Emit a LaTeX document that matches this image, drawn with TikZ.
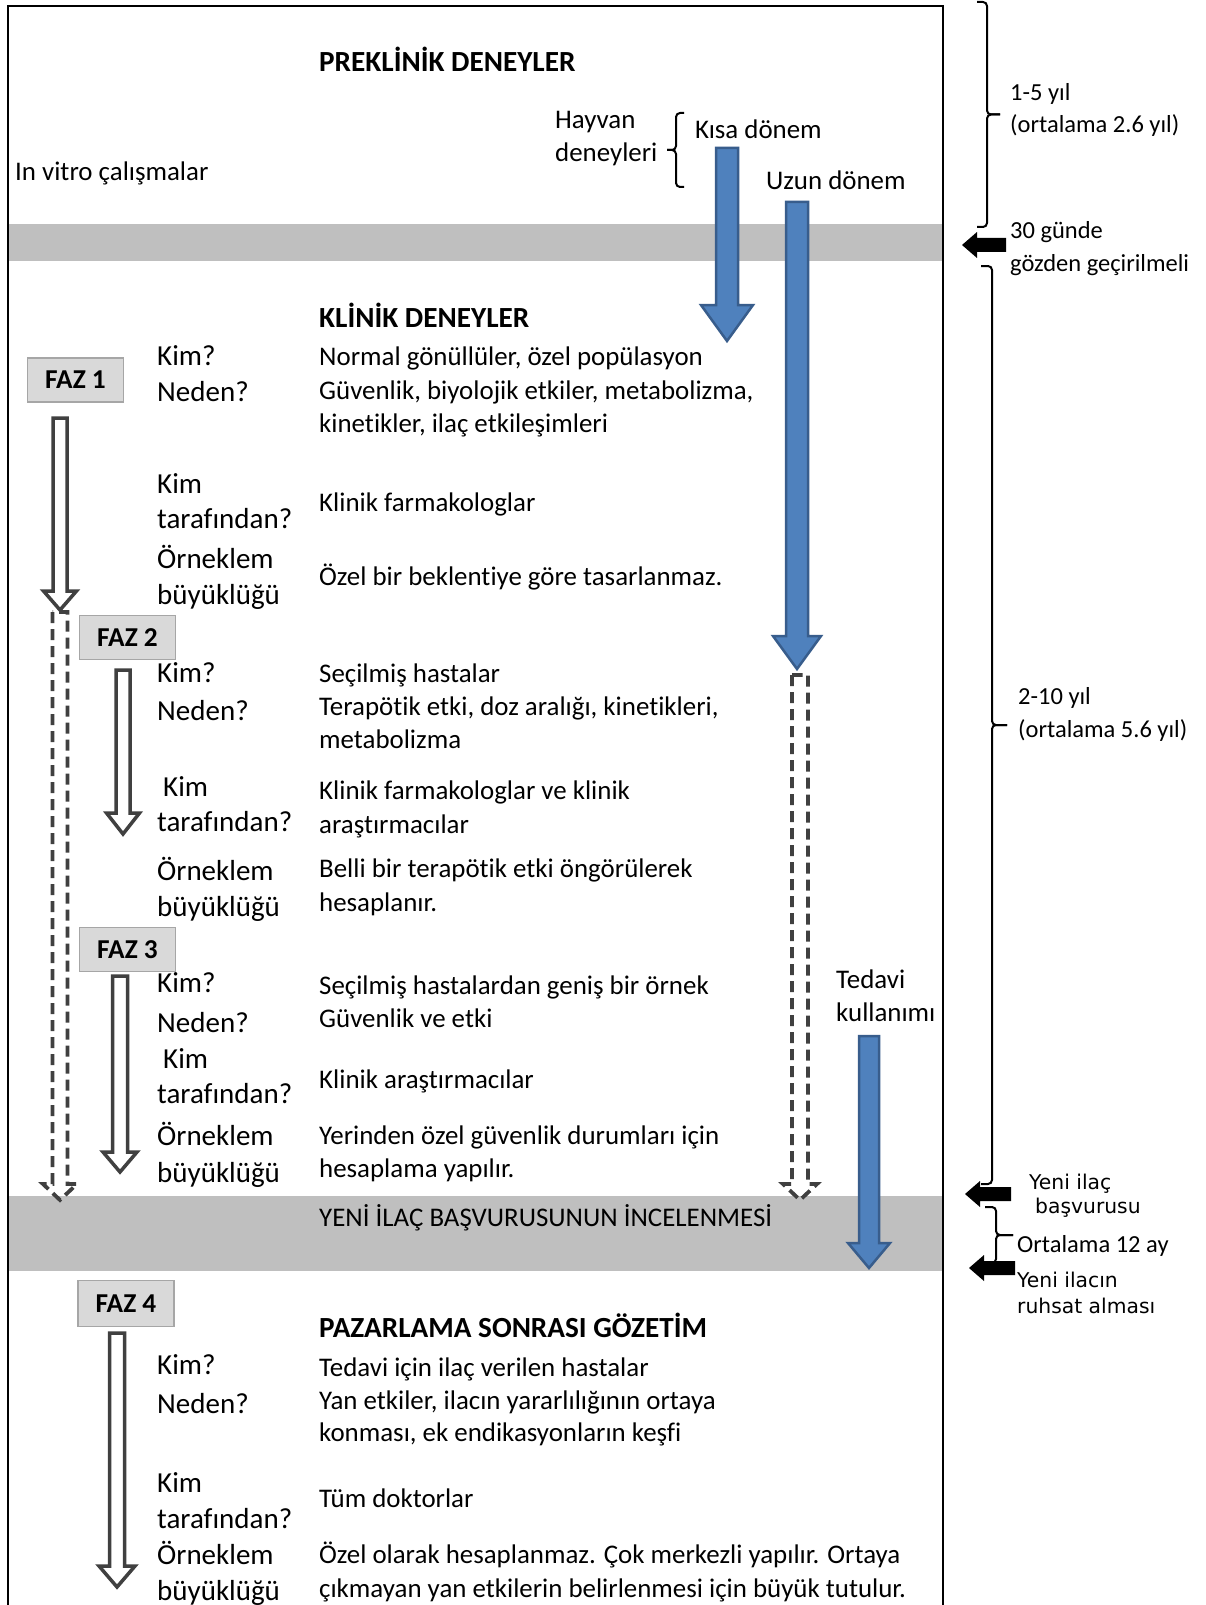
\documentclass[tikz,border=0pt]{standalone}
\usepackage{fontspec}
\setmainfont{Carlito}[RawFeature=-liga]
\newfontfamily\dejavu{DejaVu Sans}
\definecolor{bandgray}{RGB}{191,191,191}
\definecolor{fazfill}{RGB}{217,217,217}
\definecolor{fazline}{RGB}{166,166,166}
\definecolor{arrowgray}{RGB}{64,64,64}
\definecolor{bluefill}{RGB}{79,129,189}
\definecolor{blueline}{RGB}{56,93,140}
\newcommand{\barrow}[7][]{\draw[#1] ({#2-#4},#3) -- ({#2-#4},#5) -- ({#2-#6},#5) -- (#2,#7) -- ({#2+#6},#5) -- ({#2+#4},#5) -- ({#2+#4},#3) -- cycle;}
\newcommand{\harrow}[3]{\fill[black] (#1,#2) -- ({#1+15},{#2-13}) -- ({#1+15},{#2-7}) -- (#3,{#2-7}) -- (#3,{#2+7}) -- ({#1+15},{#2+7}) -- ({#1+15},{#2+13}) -- cycle;}
\newcommand{\mybrace}[5]{%
  \draw[bracestyle] (#1,#3) -- (#2,#3) -- (#2,{(#3+#4)/2}) -- (#5,{(#3+#4)/2});
  \draw[bracestyle] (#5,{(#3+#4)/2}) -- (#2,{(#3+#4)/2}) -- (#2,#4) -- (#1,#4);}
\begin{document}
\begin{tikzpicture}[x=1pt,y=-1pt,
  txt/.style={anchor=base west, inner sep=0pt, yshift=-1.5pt, font=\fontsize{26.9}{32}\selectfont},
  lbl/.style={anchor=base west, inner sep=0pt, yshift=-1.5pt, font=\fontsize{29}{34}\selectfont},
  hd/.style={anchor=base west, inner sep=0pt, yshift=-2pt, font=\fontsize{29.2}{34}\selectfont\bfseries},
  side/.style={anchor=base west, inner sep=0pt, yshift=-1pt, font=\fontsize{24.5}{30}\selectfont},
  sml/.style={anchor=base west, inner sep=0pt, font=\dejavu\fontsize{20.3}{24}\selectfont},
  faz/.style={draw=fazline, fill=fazfill, line width=1.5pt, minimum width=96pt, minimum height=44pt, inner sep=0pt, font=\fontsize{27.3}{30}\selectfont\bfseries},
  hollow/.style={draw=arrowgray, fill=white, line width=3.5pt},
  dasharrow/.style={draw=arrowgray, line width=3.8pt, dash pattern=on 11pt off 6pt},
  bluearrow/.style={draw=blueline, fill=bluefill, line width=2.5pt},
  bracestyle/.style={draw=black, line width=2pt, rounded corners=4pt}
]
\useasboundingbox (0,0) rectangle (1206,1605);
\fill[white] (0,0) rectangle (1206,1605);
% frame and bands
\fill[bandgray] (9,224) rectangle (942,261);
\fill[bandgray] (9,1196) rectangle (942,1271);
\draw[line width=2pt] (8,1610) -- (8,6) -- (943,6) -- (943,1610);

% headings
\node[hd] (pre) at (319,70) {PREKLİNİK DENEYLER};
\node[hd] (kli) at (319,325) {KLİNİK DENEYLER};
\node[hd] (paz) at (319,1335) {PAZARLAMA SONRASI GÖZETİM};

% preclinical
\node[txt] (invitro) at (15,179) {In vitro çalışmalar};
\node[txt] (hay1) at (555,127) {Hayvan};
\node[txt] (hay2) at (555,160) {deneyleri};
\mybrace{684}{676}{113}{187}{667}
\node[txt] (kisa) at (695,137) {Kısa dönem};
\node[txt] (uzun) at (766,188) {Uzun dönem};

% FAZ 1
\node[faz] (faz1) at (75.5,380) {FAZ 1};
\node[lbl] (k1) at (157,364) {Kim?};
\node[lbl] (n1) at (157,400) {Neden?};
\node[lbl] (kt1a) at (157,492) {Kim};
\node[lbl] (kt1b) at (157,527) {tarafından?};
\node[lbl] (o1a) at (157,567) {Örneklem};
\node[lbl] (o1b) at (157,603) {büyüklüğü};
\node[txt] (r1a) at (319,364) {Normal gönüllüler, özel popülasyon};
\node[txt] (r1b) at (319,398) {Güvenlik, biyolojik etkiler, metabolizma,};
\node[txt] (r1c) at (319,431) {kinetikler, ilaç etkileşimleri};
\node[txt] (r1d) at (319,510) {Klinik farmakologlar};
\node[txt] (r1e) at (319,584) {Özel bir beklentiye göre tasarlanmaz.};

% FAZ 2
\node[faz] (faz2) at (127.5,637.5) {FAZ 2};
\node[lbl] (k2) at (157,681) {Kim?};
\node[lbl] (n2) at (157,719) {Neden?};
\node[lbl] (kt2a) at (163,795) {Kim};
\node[lbl] (kt2b) at (157,830) {tarafından?};
\node[lbl] (o2a) at (157,879) {Örneklem};
\node[lbl] (o2b) at (157,915) {büyüklüğü};
\node[txt] (r2a) at (319,681) {Seçilmiş hastalar};
\node[txt] (r2b) at (319,714) {Terapötik etki, doz aralığı, kinetikleri,};
\node[txt] (r2c) at (319,747) {metabolizma};
\node[txt] (r2d) at (319,798) {Klinik farmakologlar ve klinik};
\node[txt] (r2e) at (319,832) {araştırmacılar};
\node[txt] (r2f) at (319,876) {Belli bir terapötik etki öngörülerek};
\node[txt] (r2g) at (319,910) {hesaplanır.};

% FAZ 3
\node[faz] (faz3) at (127.5,949.5) {FAZ 3};
\node[lbl] (k3) at (157,991) {Kim?};
\node[lbl] (n3) at (157,1031) {Neden?};
\node[lbl] (kt3a) at (163,1067) {Kim};
\node[lbl] (kt3b) at (157,1102) {tarafından?};
\node[lbl] (o3a) at (157,1144) {Örneklem};
\node[lbl] (o3b) at (157,1181) {büyüklüğü};
\node[txt] (r3a) at (319,993) {Seçilmiş hastalardan geniş bir örnek};
\node[txt] (r3b) at (319,1026) {Güvenlik ve etki};
\node[txt] (r3c) at (319,1087) {Klinik araştırmacılar};
\node[txt] (r3d) at (319,1143) {Yerinden özel güvenlik durumları için};
\node[txt] (r3e) at (319,1176) {hesaplama yapılır.};
\node[txt] (ted1) at (836,987) {Tedavi};
\node[txt] (ted2) at (836,1020) {kullanımı};

\node[txt] (yeni) at (319,1225) {YENİ İLAÇ BAŞVURUSUNUN İNCELENMESİ};

% FAZ 4
\node[faz, minimum height=46pt] (faz4) at (126,1303.5) {FAZ 4};
\node[lbl] (k4) at (157,1373) {Kim?};
\node[lbl] (n4) at (157,1412) {Neden?};
\node[lbl] (kt4a) at (157,1491) {Kim};
\node[lbl] (kt4b) at (157,1527) {tarafından?};
\node[lbl] (o4a) at (157,1563) {Örneklem};
\node[lbl] (o4b) at (157,1599) {büyüklüğü};
\node[txt] (r4a) at (319,1375) {Tedavi için ilaç verilen hastalar};
\node[txt] (r4b) at (319,1408) {Yan etkiler, ilacın yararlılığının ortaya};
\node[txt] (r4c) at (319,1440) {konması, ek endikasyonların keşfi};
\node[txt] (r4d) at (319,1506) {Tüm doktorlar};
\node[txt] (r4e) at (319,1562) {Özel olarak hesaplanmaz. Çok merkezli yapılır. Ortaya};
\node[txt] (r4f) at (319,1596) {çıkmayan yan etkilerin belirlenmesi için büyük tutulur.};

% hollow and dashed arrows
\barrow[hollow]{60}{418}{7}{591}{16.5}{610}
\barrow[hollow]{123}{670}{7}{813}{16.5}{834}
\barrow[hollow]{120}{976}{7.5}{1152}{17}{1172}
\barrow[hollow]{117}{1333}{7.5}{1566}{18}{1587}
\barrow[dasharrow]{60}{612}{7.5}{1184}{17}{1200}
\barrow[dasharrow]{800}{675}{8}{1184}{17}{1200}

% blue arrows
\barrow[bluearrow]{727}{148}{11}{305}{26}{341}
\barrow[bluearrow]{797}{202}{11}{636}{24}{669}
\barrow[bluearrow]{869}{1036}{10}{1243}{21}{1268}

% right side
\mybrace{977}{987}{2}{227}{1000}
\node[side] (t15a) at (1010,100) {1-5 yıl};
\node[side] (t15b) at (1010,132) {(ortalama 2.6 yıl)};
\harrow{962}{245}{1006}
\node[side] (g30a) at (1010,238) {30 günde};
\node[side] (g30b) at (1010,271) {gözden geçirilmeli};
\mybrace{981}{992}{266}{1184}{1007}
\node[side] (t210a) at (1018,703) {2-10 yıl};
\node[side] (t210b) at (1018,736) {(ortalama 5.6 yıl)};
\harrow{965}{1194}{1011}
\node[sml] (ya) at (1029,1189) {Yeni ilaç};
\node[sml] (yb) at (1035,1213) {başvurusu};
\mybrace{985}{996}{1207}{1263}{1013}
\node[side] (ort12) at (1017,1251) {Ortalama 12 ay};
\harrow{969}{1268}{1015}
\node[sml] (ra) at (1017,1287) {Yeni ilacın};
\node[sml] (rb) at (1017,1313) {ruhsat alması};
\end{tikzpicture}
\end{document}
